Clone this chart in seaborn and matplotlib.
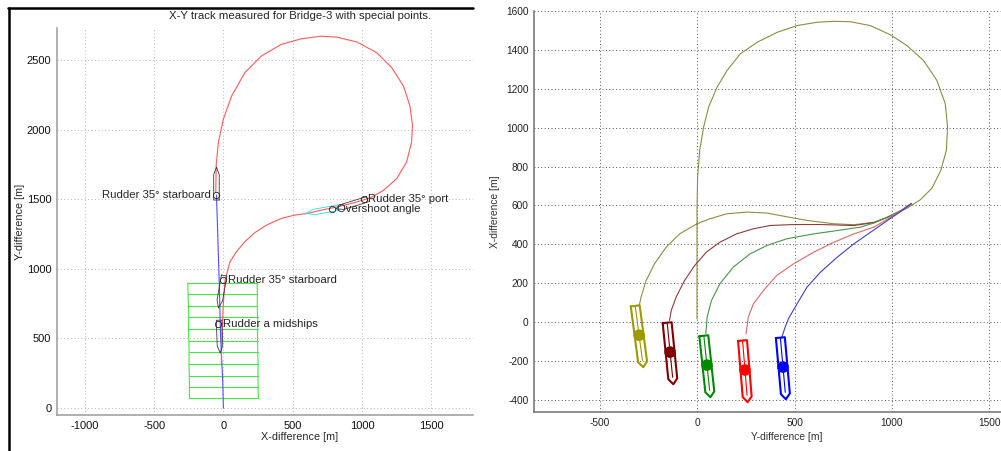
import numpy as np
import matplotlib.pyplot as plt
from matplotlib.lines import Line2D
import seaborn as sns

sns.set_style("white")
plt.rcParams["font.family"] = ["Liberation Sans", "DejaVu Sans"]
plt.rcParams["axes.unicode_minus"] = False

## Left panel: X-Y track measured for Bridge-3
red_x = [-15, -12, 0, 12, 48, 95, 155, 226, 310, 417, 512, 607, 702, 821, 940, 1060, 1155, 1250, 1321,
         1357, 1364, 1345, 1298, 1214, 1107, 964, 821, 702, 560, 417, 274, 155, 60, 0, -36, -52, -55]
red_y = [320, 512, 754, 920, 1052, 1124, 1195, 1260, 1314, 1362, 1386, 1398, 1421, 1445, 1474, 1510, 1564, 1648, 1767,
         1910, 2029, 2171, 2314, 2445, 2552, 2629, 2664, 2671, 2652, 2612, 2529, 2410, 2243, 2076, 1910, 1743, 1552]
blue_x = [0, -5, -20, -30, -43, -50]
blue_y = [0, 200, 500, 900, 1315, 1530]

# special points
mark_x = [-50, 1014, 786, 0, -36]
mark_y = [1530, 1500, 1430, 920, 603]
mark_text = ["Rudder 35° starboard", "Rudder 35° port", "Overshoot angle",
             "Rudder 35° starboard", "Rudder a midships"]
mark_side = ["left", "right", "right", "right", "right"]

# ship outlines: centre, heading (deg)
hull_x = [-50, -15, -27, 925, 714]
hull_y = [1612, 836, 513, 1465, 1419]
hull_heading = [90, -100, -88, 197, 190]
hull_color = ["#3a3a3a", "#3a3a3a", "#3a3a3a", "#3a3a3a", "#22e0ee"]

# green wake mesh
mesh_y = [900, 819, 735, 656, 568, 483, 400, 316, 232, 149, 70]
mesh_left_x = [-257, -255, -252, -250, -252, -249, -247, -248, -246, -245, -245]
mesh_right_x = [243, 245, 244, 246, 247, 246, 248, 250, 249, 250, 252]

## Right panel: five tracks, Y-difference vs X-difference
olive_x = [0, 0, 0, 3, 14, 34, 60, 103, 154, 222, 308, 410, 513, 615, 701, 786, 889, 991, 1077, 1162,
           1230, 1273, 1285, 1279, 1251, 1205, 1145, 1077, 991, 908, 805, 702, 564, 444, 358, 255, 151,
           65, 0, -89, -158, -218, -261, -287, -296]
olive_y = [17, 300, 578, 748, 885, 1004, 1107, 1209, 1294, 1380, 1439, 1490, 1525, 1542, 1547, 1545, 1525, 1478,
           1422, 1345, 1243, 1124, 1004, 885, 782, 689, 629, 586, 544, 514, 501, 506, 523, 545, 561, 566, 557,
           531, 506, 454, 386, 300, 214, 129, 86]
maroon_x = [1100, 1046, 977, 908, 805, 633, 495, 375, 289, 203, 117, 48, -12, -64, -107, -132, -141]
maroon_y = [610, 574, 540, 512, 497, 502, 502, 497, 480, 454, 411, 360, 291, 214, 129, 60, 9]
green_x = [1100, 1046, 977, 908, 839, 719, 599, 461, 358, 272, 186, 117, 74, 52, 45]
green_y = [610, 574, 540, 510, 489, 471, 454, 429, 394, 351, 283, 197, 111, 26, -60]
red2_x = [1100, 1046, 977, 908, 805, 702, 599, 495, 409, 341, 289, 263, 251]
red2_y = [610, 574, 530, 489, 454, 411, 360, 300, 240, 163, 94, 26, -60]
blue2_x = [1100, 1046, 977, 891, 805, 719, 633, 564, 513, 470, 452, 435]
blue2_y = [610, 570, 523, 463, 403, 334, 257, 180, 94, 20, -26, -77]

ship_names = ["olive", "maroon", "green", "red", "blue"]
ship_x = [-297, -138, 51, 246, 441]
ship_y = [-67, -154, -221, -246, -231]
ship_heading = [-82.5, -84.3, -83.9, -85.3, -84.9]
ship_color = ["#9c9a00", "#800000", "#008a00", "#ff0000", "#0000ff"]
track_color = ["#8f8c45", "#8c3c3c", "#4a944a", "#d86a6a", "#4040c0"]


def hull(cx, cy, heading, aft, fwd, hw, shoulder):
    a = np.deg2rad(heading)
    u = np.array([np.cos(a), np.sin(a)])
    v = np.array([-np.sin(a), np.cos(a)])
    local = [(-aft, -hw), (fwd - shoulder, -hw), (fwd, 0), (fwd - shoulder, hw), (-aft, hw), (-aft, -hw)]
    pts = np.array([[cx, cy] + s * u + t * v for s, t in local])
    return pts[:, 0], pts[:, 1]


fig = plt.figure(figsize=(10.01, 4.51), dpi=100)

# ---- left panel
ax1 = fig.add_axes([57 / 1001, (451 - 415) / 451, 416 / 1001, 387 / 451])
ax1.set_xlim(-1200, 1800)
ax1.set_ylim(-50, 2730)
ax1.set_xticks([-1000, -500, 0, 500, 1000, 1500])
ax1.set_yticks([0, 500, 1000, 1500, 2000, 2500])
ax1.grid(True, linestyle=(0, (1, 2.5)), color="#b8b8b8", linewidth=0.7)
ax1.set_axisbelow(True)

for yy, xl, xr in zip(mesh_y, mesh_left_x, mesh_right_x):
    ax1.plot([xl, xr], [yy, yy], color="#44e844", lw=0.8)
ax1.plot(mesh_left_x, mesh_y, color="#44e844", lw=0.8)
ax1.plot(mesh_right_x, mesh_y, color="#44e844", lw=0.8)

sns.lineplot(x=blue_x, y=blue_y, sort=False, estimator=None, color="#5050ff", lw=0.8, ax=ax1)
sns.lineplot(x=red_x, y=red_y, sort=False, estimator=None, color="#ff5a5a", lw=0.8, ax=ax1)

for hx, hy, hh, hc in zip(hull_x, hull_y, hull_heading, hull_color):
    px, py = hull(hx, hy, hh, 118, 119, 20, 55)
    ax1.plot(px, py, color=hc, lw=0.6)

ax1.plot(mark_x, mark_y, "o", mfc="none", mec="#222222", ms=4.5, mew=0.6)
for mx, my, mt, ms in zip(mark_x, mark_y, mark_text, mark_side):
    off = -4 if ms == "left" else 3
    ax1.annotate(mt, xy=(mx, my), xytext=(off, 0), textcoords="offset points",
                 ha="right" if ms == "left" else "left", va="center", fontsize=8.2)

for s in ["top", "right"]:
    ax1.spines[s].set_visible(False)
for s in ["left", "bottom"]:
    ax1.spines[s].set_color("#9a9a9a")
    ax1.spines[s].set_linewidth(1.1)
ax1.tick_params(length=0, labelsize=8, pad=4, colors="#111111")
ax1.set_xlabel("X-difference [m]", fontsize=7.8)
ax1.xaxis.set_label_coords(0.584, -0.045)
ax1.set_ylabel("Y-difference [m]", fontsize=7.8)
ax1.yaxis.set_label_coords(-0.077, 0.5)
fig.text(300 / 1001, 1 - 16 / 451, "X-Y track measured for Bridge-3 with special points.",
         ha="center", va="center", fontsize=8.2)

# screenshot frame
fig.add_artist(Line2D([8 / 1001, 473 / 1001], [1 - 7.5 / 451] * 2, color="black", lw=1.8,
                      transform=fig.transFigure))
fig.add_artist(Line2D([8.5 / 1001] * 2, [0, 1 - 7.5 / 451], color="black", lw=1.8,
                      transform=fig.transFigure))

# ---- right panel
ax2 = fig.add_axes([534 / 1001, (451 - 412) / 451, 506 / 1001, 401 / 451])
ax2.set_xlim(-836, 1759)
ax2.set_ylim(-462, 1600)
ax2.set_xticks([-500, 0, 500, 1000, 1500])
ax2.set_yticks(list(range(-400, 1601, 200)))
ax2.grid(True, linestyle=(0, (1, 2.5)), color="#555555", linewidth=0.7)
ax2.set_axisbelow(True)

tracks = [(olive_x, olive_y), (maroon_x, maroon_y), (green_x, green_y), (red2_x, red2_y), (blue2_x, blue2_y)]
for (tx, ty), tc in zip(tracks, track_color):
    sns.lineplot(x=tx, y=ty, sort=False, estimator=None, color=tc, lw=0.8, ax=ax2)

for sx, sy, sh, sc in zip(ship_x, ship_y, ship_heading, ship_color):
    px, py = hull(sx, sy, sh, 152, 166, 23, 28)
    ax2.plot(px, py, color=sc, lw=1.5, zorder=4)
    a = np.deg2rad(sh)
    ax2.plot([sx - 150 * np.cos(a), sx + 130 * np.cos(a)],
             [sy - 150 * np.sin(a), sy + 130 * np.sin(a)], color=sc, lw=0.8, zorder=4)

sns.scatterplot(x=ship_x, y=ship_y, hue=ship_names, palette=dict(zip(ship_names, ship_color)),
                s=70, linewidth=0, legend=False, zorder=5, ax=ax2)

for s in ["top", "right"]:
    ax2.spines[s].set_visible(False)
for s in ["left", "bottom"]:
    ax2.spines[s].set_color("#707070")
    ax2.spines[s].set_linewidth(1.1)
ax2.tick_params(direction="in", length=3, width=0.8, color="#555555", labelsize=7.3, pad=4,
                labelcolor="#222222")
ax2.set_xlabel("Y-difference [m]", fontsize=7.4, color="#333333")
ax2.xaxis.set_label_coords(0.5, -0.05)
ax2.set_ylabel("X-difference [m]", fontsize=7.4, color="#333333")
ax2.yaxis.set_label_coords(-0.067, 0.5)

fig.savefig("out.png", dpi=100)
